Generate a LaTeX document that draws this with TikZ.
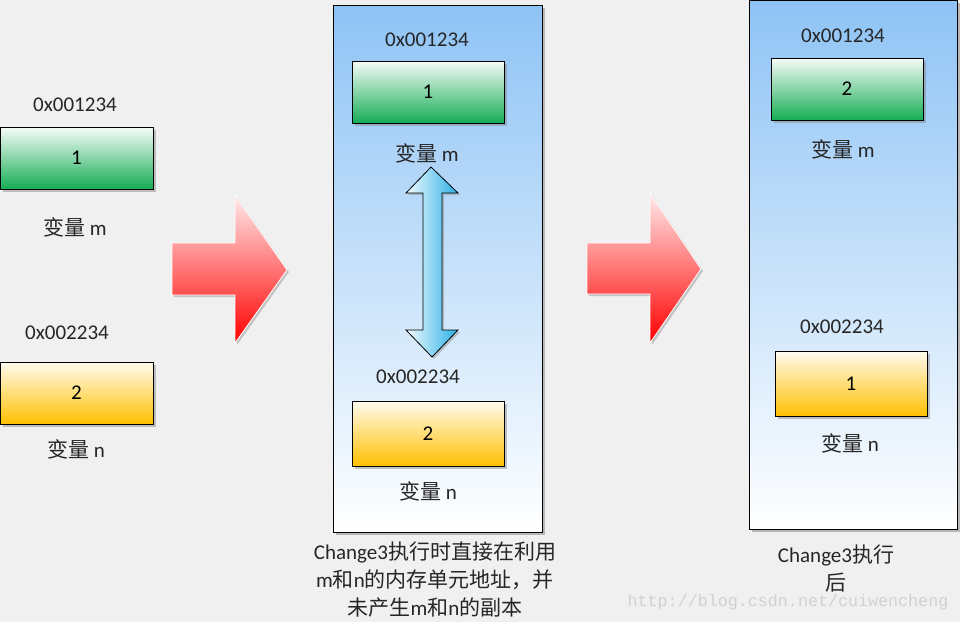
\documentclass[tikz,border=0pt]{standalone}
\usepackage{fontspec}
\setmainfont{Carlito}
\newfontfamily\cjk{Noto Sans CJK SC}
\newfontfamily\webfont{Liberation Mono}
\usetikzlibrary{positioning,shadows}
\definecolor{pagegray}{RGB}{240,240,240}
\definecolor{panelblue}{RGB}{142,195,245}
\definecolor{boxgreen}{RGB}{22,173,85}
\definecolor{boxyellow}{RGB}{255,192,0}
\definecolor{arrowcyan}{RGB}{41,176,230}
\begin{document}
\begin{tikzpicture}[x=1pt,y=-1pt]

  % Definitions
  \tikzstyle{txt} = [inner sep=0pt, text=black!85, font=\fontsize{21}{28}\selectfont]
  \tikzstyle{cell} = [rectangle, minimum width=152pt, minimum height=62pt, inner sep=0pt, draw=black, line width=0.8pt, text centered, font=\fontsize{21}{28}\selectfont, drop shadow={shadow xshift=2.5pt, shadow yshift=-2.5pt, opacity=0.45}]
  \tikzstyle{greencell} = [cell, top color=boxgreen!4, bottom color=boxgreen]
  \tikzstyle{yellowcell} = [cell, top color=boxyellow!6, bottom color=boxyellow]
  \tikzstyle{panel} = [rectangle, inner sep=0pt, draw=black, line width=0.8pt, top color=panelblue, bottom color=white, drop shadow={shadow xshift=3pt, shadow yshift=-3pt, opacity=0.5}]
  \tikzstyle{bigarrow} = [draw=white, line width=0.8pt, top color=red!8, bottom color=red, drop shadow={shadow xshift=2pt, shadow yshift=-2pt, opacity=0.4}]
  \tikzstyle{swaparrow} = [draw=black, line width=0.8pt, left color=arrowcyan!6, right color=arrowcyan, drop shadow={shadow xshift=2pt, shadow yshift=-2pt, opacity=0.4}]

  \fill [pagegray] (0,0) rectangle (960,622);
  \useasboundingbox (0,0) rectangle (960,622);

  % before the call
  \node (addrM) [txt] at (75,105) {0x001234};
  \node (m) [greencell, minimum width=153pt] at (76.5,158) {1};
  \node (nameM) [txt] at (75,227) {{\cjk 变量} m};
  \node (addrN) [txt] at (67,333) {0x002234};
  \node (n) [yellowcell, minimum width=153pt] at (76.5,393) {2};
  \node (nameN) [txt] at (76,449) {{\cjk 变量} n};

  \draw [bigarrow] (172,243) -- (235,243) -- (235,195) -- (287,270) -- (235,343) -- (235,295) -- (172,295) -- cycle;

  % during the call
  \node (during) [panel, minimum width=209pt, minimum height=527pt] at (437.5,268.5) {};
  \node (addrM2) [txt] at (427,40) {0x001234};
  \node (m2) [greencell] at (428,92) {1};
  \node (nameM2) [txt] at (427,153) {{\cjk 变量} m};
  \draw [swaparrow] (431,167) -- (458,193) -- (442,193) -- (442,330) -- (458,330) -- (432,357) -- (406,330) -- (423,330) -- (423,193) -- (406,193) -- cycle;
  \node (addrN2) [txt] at (418,377) {0x002234};
  \node (n2) [yellowcell, minimum height=65pt] at (428,433.5) {2};
  \node (nameN2) [txt] at (428,491) {{\cjk 变量} n};
  \node (noteDuring) [txt, align=center] at (435,580) {Change3{\cjk 执行时直接在利用}\\m{\cjk 和}n{\cjk 的内存单元地址，并}\\{\cjk 未产生}m{\cjk 和}n{\cjk 的副本}};

  \draw [bigarrow] (587,243) -- (650,243) -- (650,193) -- (701,269) -- (650,343) -- (650,294) -- (587,294) -- cycle;

  % after the call
  \node (after) [panel, minimum width=208pt, minimum height=529pt] at (853,264.5) {};
  \node (addrM3) [txt] at (843,36) {0x001234};
  \node (m3) [greencell] at (847,89) {2};
  \node (nameM3) [txt] at (843,149) {{\cjk 变量} m};
  \node (addrN3) [txt] at (842,327) {0x002234};
  \node (n3) [yellowcell, minimum height=65pt] at (851,384) {1};
  \node (nameN3) [txt] at (850,443) {{\cjk 变量} n};
  \node (noteAfter) [txt, align=center] at (836,569) {Change3{\cjk 执行}\\{\cjk 后}};

  \node (mark) [inner sep=0pt, text=black!18, font=\webfont\fontsize{16.7}{20}\selectfont] at (788,602) {http://blog.csdn.net/cuiwencheng};

\end{tikzpicture}
\end{document}
